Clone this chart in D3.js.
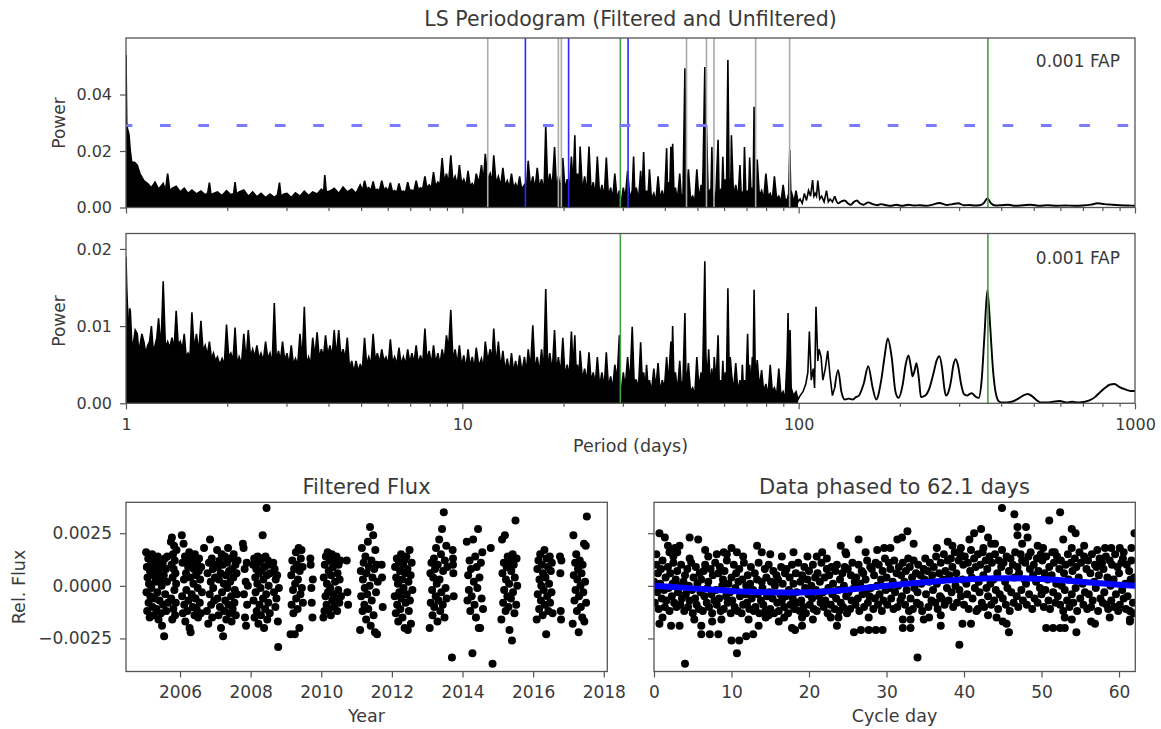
<!DOCTYPE html>
<html><head><meta charset="utf-8">
<script src="https://cdn.jsdelivr.net/npm/d3@7"></script>
<style>body{margin:0;background:#fff}</style>
</head><body>
<script>
// ---------------- DATA ----------------
const filteredPts = [[1.00,.054],[1.005,.030],[1.01,.028],[1.02,.026],[1.03,.020],[1.04,.016],[1.06,.016],[1.08,.015],[1.10,.012],[1.13,.0095],[1.16,.0085],[1.19,.0070],[1.22,.0090],[1.25,.0065],[1.29,.0085],[1.31,.0060],[1.33,.0120],[1.35,.0058],[1.37,.0068],[1.41,.0075],[1.45,.0055],[1.49,.0068],[1.53,.0050],[1.57,.0062],[1.62,.0048],[1.67,.0058],[1.72,.0045],[1.75,.0052],[1.77,.0088],[1.79,.0045],[1.82,.0050],[1.87,.0055],[1.93,.0042],[1.99,.0060],[2.05,.0045],[2.09,.0050],[2.11,.0090],[2.13,.0048],[2.17,.0055],[2.24,.0062],[2.31,.0040],[2.38,.0055],[2.45,.0038],[2.52,.0050],[2.60,.0035],[2.68,.0048],[2.76,.0036],[2.82,.0045],[2.86,.0088],[2.89,.0040],[2.95,.0048],[3.01,.0050],[3.10,.0035],[3.19,.0052],[3.29,.0040],[3.39,.0058],[3.49,.0042],[3.59,.0055],[3.70,.0048],[3.81,.0065],[3.87,.0055],[3.90,.0115],[3.94,.0055],[4.04,.0058],[4.16,.0068],[4.29,.0050],[4.42,.0072],[4.55,.0055],[4.69,.0065],[4.83,.0050],[4.97,.0080],[5.05,.0060],[5.12,.0095],[5.20,.0065],[5.27,.0070],[5.35,.0060],[5.43,.0092],[5.51,.0060],[5.59,.0065],[5.67,.0060],[5.76,.0095],[5.85,.0062],[5.93,.0070],[6.02,.0058],[6.11,.0088],[6.20,.0055],[6.29,.0060],[6.38,.0052],[6.48,.0085],[6.58,.0055],[6.68,.0058],[6.78,.0055],[6.88,.0090],[6.98,.0060],[7.08,.0062],[7.18,.0058],[7.29,.0095],[7.40,.0062],[7.51,.0070],[7.62,.0065],[7.74,.0110],[7.85,.0068],[7.97,.0080],[8.09,.0070],[8.21,.0125],[8.33,.0075],[8.46,.0090],[8.58,.0080],[8.71,.0175],[8.84,.0090],[8.97,.0120],[9.10,.0085],[9.24,.0185],[9.38,.0090],[9.52,.0110],[9.66,.0080],[9.80,.0150],[9.95,.0085],[10.1,.0100],[10.25,.0075],[10.4,.0130],[10.55,.0075],[10.7,.0085],[10.85,.0070],[11.0,.0120],[11.2,.0085],[11.4,.0150],[11.55,.0090],[11.7,.0190],[11.9,.0100],[12.1,.0120],[12.25,.0085],[12.4,.0185],[12.6,.0085],[12.8,.0110],[13.0,.0075],[13.2,.0140],[13.4,.0075],[13.6,.0095],[13.8,.0070],[14.0,.0120],[14.2,.0070],[14.4,.0085],[14.6,.0065],[14.8,.0110],[15.0,.0065],[15.3,.0080],[15.5,.0060],[15.7,.0165],[15.95,.0070],[16.2,.0110],[16.45,.0065],[16.7,.0140],[16.95,.0070],[17.2,.0100],[17.5,.0060],[17.7,.0290],[17.95,.0065],[18.2,.0120],[18.5,.0070],[18.8,.0214],[19.05,.0065],[19.3,.0110],[19.6,.0060],[19.9,.0175],[20.2,.0060],[20.5,.0100],[20.8,.0055],[21.1,.0180],[21.35,.0080],[21.6,.0256],[21.8,.0070],[22.0,.0120],[22.2,.0060],[22.4,.0216],[22.75,.0055],[23.1,.0110],[23.45,.0050],[23.8,.0216],[24.15,.0050],[24.5,.0090],[24.85,.0040],[25.2,.0180],[25.6,.0040],[26.0,.0080],[26.4,.0035],[26.8,.0177],[27.2,.0035],[27.6,.0070],[28.0,.0030],[28.4,.0120],[28.85,.0030],[29.3,.0060],[29.6,.0005],[30.1,.0070],[30.5,.0030],[31.0,.0130],[31.5,.0030],[32.0,.0060],[32.3,.0180],[32.6,.0035],[32.9,.0070],[33.4,.0025],[33.9,.0130],[34.2,.0040],[34.6,.0196],[34.95,.0030],[35.3,.0060],[35.6,.0025],[36.0,.0135],[36.5,.0030],[37.1,.0050],[37.6,.0020],[38.2,.0110],[38.7,.0030],[39.3,.0060],[39.9,.0025],[40.5,.0210],[40.75,.0060],[41.0,.0090],[41.3,.0040],[41.7,.0215],[41.95,.0080],[42.2,.0226],[42.6,.0040],[43.0,.0070],[43.6,.0025],[44.3,.0120],[44.8,.0030],[45.3,.0050],[45.9,.0493],[46.2,.0080],[46.5,.0070],[47.0,.0135],[47.7,.0030],[48.4,.0040],[49.1,.0020],[49.8,.0135],[50.5,.0030],[51.3,.0080],[51.7,.0040],[52.0,.0150],[52.6,.0497],[52.9,.0150],[53.2,.0290],[53.8,.0050],[54.4,.0060],[54.8,.0030],[55.2,.0214],[55.6,.0040],[56.1,.0020],[56.8,.0060],[57.6,.0240],[58.0,.0050],[58.5,.0060],[59.0,.0030],[59.5,.0180],[60.0,.0040],[60.5,.0100],[61.0,.0060],[61.6,.0522],[62.1,.0100],[62.5,.0100],[62.8,.0060],[63.1,.0256],[64.0,.0040],[65.0,.0080],[66.0,.0030],[66.9,.0150],[67.5,.0040],[68.0,.0050],[68.5,.0030],[69.0,.0214],[69.7,.0040],[70.5,.0060],[71.0,.0040],[71.5,.0177],[72.2,.0040],[72.8,.0070],[73.2,.0050],[73.7,.0357],[74.2,.0080],[74.8,.0100],[75.0,.0070],[75.3,.0170],[76.4,.0040],[77.6,.0060],[78.7,.0030],[79.9,.0120],[81.1,.0040],[82.3,.0050],[83.5,.0025],[84.7,.0110],[86.0,.0030],[87.3,.0040],[88.6,.0020],[89.9,.0080],[91.2,.0025],[92.6,.0030],[93.4,.0050],[94.1,.0204],[94.8,.0040],[95.4,.0050],[96.8,.0020],[98.2,.0060],[99.6,.0020],[101,.0030],[102.5,.0015],[104,.0050],[105.5,.0025],[107,.0060],[108.5,.0040],[110,.0097],[111,.0040],[112,.0050],[113,.0040],[114,.0095],[115.5,.0030],[117,.0040],[119,.0020],[121,.0060],[122.5,.0020],[124,.0030],[126,.0020],[128,.0040],[131,.0015],[134,.0022],[137,.0025],[140,.0015],[143,.0010],[146,.0020],[149,.0025],[152,.0015],[156,.0010],[161,.0018],[166,.0012],[171,.0008],[176,.0012],[182,.0008],[188,.0006],[195,.0010],[203,.0006],[212,.0010],[220,.0007],[229,.0008],[240,.0006],[250,.0010],[262,.0016],[275,.0009],[287,.0012],[298,.0015],[310,.0008],[322,.0009],[333,.0007],[345,.0008],[355,.0015],[364,.0032],[373,.0015],[385,.0007],[400,.0008],[420,.0010],[440,.0006],[465,.0008],[490,.0010],[520,.0006],[550,.0008],[585,.0006],[620,.0007],[660,.0006],[700,.0007],[740,.0010],[775,.0015],[810,.0012],[850,.0010],[900,.0008],[950,.0007],[1000,.0006]];

const unfilteredPts = [[1.00,.0190],[1.005,.0150],[1.01,.0125],[1.015,.0080],[1.02,.0095],[1.025,.0123],[1.03,.0120],[1.04,.0080],[1.05,.0075],[1.065,.0095],[1.08,.0090],[1.09,.0070],[1.10,.0075],[1.115,.0090],[1.13,.0080],[1.145,.0065],[1.16,.0075],[1.175,.0080],[1.19,.0100],[1.205,.0068],[1.22,.0075],[1.235,.0085],[1.25,.0110],[1.27,.0070],[1.29,.0158],[1.31,.0072],[1.33,.0080],[1.35,.0072],[1.37,.0085],[1.39,.0070],[1.41,.0120],[1.43,.0075],[1.45,.0080],[1.47,.0070],[1.49,.0090],[1.51,.0060],[1.53,.0065],[1.55,.0060],[1.57,.0118],[1.595,.0070],[1.62,.0090],[1.645,.0065],[1.67,.0107],[1.695,.0068],[1.72,.0075],[1.745,.0062],[1.77,.0080],[1.795,.0058],[1.82,.0065],[1.845,.0055],[1.87,.0060],[1.90,.0050],[1.93,.0058],[1.96,.0050],[1.99,.0102],[2.02,.0060],[2.05,.0065],[2.08,.0055],[2.11,.0098],[2.14,.0050],[2.17,.0060],[2.205,.0050],[2.24,.0090],[2.275,.0055],[2.31,.0095],[2.345,.0060],[2.38,.0070],[2.415,.0060],[2.45,.0075],[2.485,.0058],[2.52,.0065],[2.56,.0055],[2.60,.0080],[2.64,.0058],[2.68,.0065],[2.72,.0050],[2.76,.0130],[2.80,.0055],[2.84,.0068],[2.88,.0055],[2.92,.0080],[2.965,.0055],[3.01,.0065],[3.055,.0050],[3.10,.0075],[3.145,.0050],[3.19,.0058],[3.24,.0050],[3.29,.0090],[3.34,.0055],[3.39,.0125],[3.44,.0050],[3.49,.0060],[3.54,.0050],[3.59,.0085],[3.645,.0060],[3.70,.0092],[3.755,.0058],[3.81,.0070],[3.865,.0060],[3.92,.0088],[3.98,.0062],[4.04,.0075],[4.10,.0060],[4.16,.0095],[4.22,.0060],[4.29,.0095],[4.355,.0060],[4.42,.0070],[4.485,.0058],[4.55,.0085],[4.62,.0045],[4.69,.0055],[4.76,.0040],[4.83,.0055],[4.90,.0042],[4.97,.0050],[5.045,.0045],[5.12,.0085],[5.195,.0050],[5.27,.0060],[5.35,.0050],[5.43,.0090],[5.51,.0055],[5.59,.0065],[5.675,.0052],[5.76,.0070],[5.845,.0055],[5.93,.0060],[6.02,.0050],[6.11,.0083],[6.20,.0052],[6.29,.0060],[6.385,.0050],[6.48,.0072],[6.58,.0050],[6.68,.0060],[6.78,.0050],[6.88,.0070],[6.98,.0052],[7.08,.0065],[7.185,.0052],[7.29,.0075],[7.40,.0050],[7.51,.0062],[7.62,.0050],[7.74,.0097],[7.85,.0055],[7.97,.0068],[8.09,.0050],[8.21,.0075],[8.33,.0052],[8.46,.0065],[8.58,.0050],[8.71,.0070],[8.84,.0055],[8.97,.0088],[9.10,.0070],[9.24,.0121],[9.38,.0055],[9.52,.0070],[9.66,.0050],[9.80,.0075],[9.95,.0048],[10.1,.0062],[10.25,.0045],[10.4,.0070],[10.55,.0048],[10.7,.0060],[10.85,.0045],[11.0,.0072],[11.2,.0048],[11.4,.0058],[11.55,.0045],[11.7,.0080],[11.9,.0055],[12.1,.0070],[12.25,.0055],[12.4,.0097],[12.6,.0050],[12.8,.0080],[13.0,.0045],[13.2,.0068],[13.4,.0042],[13.6,.0058],[13.8,.0040],[14.0,.0065],[14.2,.0040],[14.4,.0055],[14.6,.0040],[14.8,.0062],[15.05,.0040],[15.3,.0060],[15.5,.0040],[15.7,.0070],[15.95,.0045],[16.2,.0101],[16.45,.0042],[16.7,.0060],[16.95,.0040],[17.2,.0070],[17.45,.0040],[17.7,.0148],[17.95,.0042],[18.2,.0065],[18.5,.0040],[18.8,.0095],[19.05,.0040],[19.3,.0060],[19.6,.0038],[19.9,.0085],[20.2,.0035],[20.5,.0050],[20.8,.0035],[21.1,.0093],[21.35,.0045],[21.6,.0088],[21.8,.0040],[22.0,.0050],[22.2,.0030],[22.4,.0068],[22.75,.0030],[23.1,.0045],[23.45,.0028],[23.8,.0066],[24.15,.0028],[24.5,.0040],[24.85,.0025],[25.2,.0060],[25.6,.0022],[26.0,.0040],[26.4,.0020],[26.8,.0066],[27.2,.0020],[27.6,.0035],[28.0,.0018],[28.4,.0050],[28.85,.0030],[29.3,.0088],[29.6,.0002],[30.1,.0040],[30.5,.0020],[31.0,.0060],[31.5,.0025],[32.0,.0099],[32.4,.0030],[32.9,.0030],[33.4,.0020],[33.9,.0079],[34.3,.0025],[34.6,.0040],[35.0,.0020],[35.3,.0050],[35.7,.0018],[36.0,.0030],[36.5,.0015],[37.1,.0045],[37.6,.0020],[38.2,.0052],[38.7,.0015],[39.3,.0030],[39.9,.0020],[40.5,.0060],[41.0,.0025],[41.7,.0080],[42.0,.0050],[42.2,.0100],[42.6,.0025],[43.0,.0040],[43.6,.0015],[44.3,.0055],[44.8,.0020],[45.3,.0030],[45.9,.0117],[46.2,.0040],[46.6,.0030],[47.0,.0052],[47.7,.0015],[48.4,.0020],[49.1,.0010],[49.8,.0060],[50.5,.0020],[51.3,.0040],[51.7,.0025],[52.0,.0070],[52.6,.0184],[53.0,.0060],[53.5,.0030],[54.0,.0070],[54.6,.0020],[55.2,.0045],[55.6,.0010],[56.1,.0060],[56.8,.0025],[57.6,.0088],[58.1,.0020],[58.5,.0030],[59.0,.0015],[59.5,.0055],[60.0,.0020],[60.5,.0040],[61.0,.0030],[61.6,.0149],[62.1,.0050],[62.6,.0060],[63.1,.0040],[64.0,.0015],[65.0,.0052],[66.0,.0015],[66.9,.0030],[67.5,.0010],[68.0,.0050],[68.5,.0020],[69.0,.0030],[69.7,.0020],[70.5,.0090],[71.0,.0035],[71.5,.0050],[72.2,.0020],[72.8,.0060],[73.2,.0040],[73.7,.0147],[74.3,.0040],[74.8,.0040],[75.3,.0056],[76.4,.0020],[77.6,.0043],[78.7,.0015],[79.9,.0025],[81.1,.0010],[82.3,.0050],[83.5,.0015],[84.7,.0020],[86.0,.0010],[87.3,.0045],[88.6,.0010],[89.9,.0015],[91.2,.0005],[92.4,.0060],[93.0,.0117],[93.6,.0030],[94.3,.0095],[95.0,.0020],[96.5,.0010],[98.2,.0015],[99.6,.0005],[101,.0010],[103,.0015],[105,.0025],[106.5,.0040],[107.6,.0093],[109,.0030],[110.5,.0045],[111.5,.0020],[112.6,.0125],[114,.0055],[115,.0070],[116.6,.0060],[118,.0030],[120,.0045],[122,.0068],[124,.0035],[126,.0010],[128,.0020],[131,.0043],[134,.0015],[137,.0005],[141,.0006],[145,.0005],[148,.0008],[151,.0010],[156,.0025],[161,.0048],[166,.0020],[170,.0005],[176,.0030],[180,.0060],[184,.0084],[189,.0060],[194,.0015],[198,.0007],[204,.0025],[208,.0050],[212,.0062],[216,.0045],[218,.0035],[221,.0042],[224,.0052],[228,.0030],[231,.0008],[238,.0010],[245,.0020],[252,.0040],[257,.0055],[262,.0061],[267,.0045],[271,.0020],[274,.0010],[279,.0015],[284,.0030],[288,.0048],[293,.0057],[298,.0048],[304,.0025],[310,.0012],[317,.0010],[322,.0012],[327,.0013],[335,.0009],[343,.0007],[350,.0030],[357,.0090],[364,.0147],[371,.0100],[378,.0045],[386,.0012],[395,.0002],[404,.0001],[415,.0001],[430,.0002],[450,.0006],[465,.0010],[480,.0012],[495,.0009],[510,.0004],[525,.0001],[545,.0001],[570,.0002],[597,.0003],[625,.0001],[650,.0002],[680,.0001],[710,.0002],[735,.0004],[760,.0008],[790,.0015],[815,.0020],[840,.0024],[869,.0025],[900,.0021],[935,.0018],[970,.0016],[1000,.0016]];

const grayPeriods = [11.9, 19.3, 19.7, 46.4, 53.2, 56.0, 74.5, 94.0];
const bluePeriods = [15.4, 20.7, 31.1];
const greenPeriods = [29.5, 365.25];
const fapLevelFiltered = 0.029;
const periodTicks = [1, 10, 100, 1000];
const powerTicksTop = [0, 0.02, 0.04];
const powerTicksMid = [0, 0.01, 0.02];

const fluxPts = [
[2005.04,16e-4],[2005.05,-3e-4],[2005.06,9e-4],[2005.07,-12e-4],[2005.08,4e-4],[2005.1,13e-4],[2005.11,-8e-4],[2005.12,1e-4],[2005.14,-15e-4],[2005.15,7e-4],[2005.16,-5e-4],[2005.18,11e-4],[2005.19,-1e-4],[2005.21,15e-4],[2005.22,-10e-4],[2005.24,5e-4],[2005.25,-14e-4],[2005.27,9e-4],[2005.28,-6e-4],[2005.3,2e-4],[2005.31,12e-4],[2005.33,-11e-4],[2005.34,6e-4],[2005.36,-3e-4],[2005.37,14e-4],[2005.39,-16e-4],[2005.4,8e-4],[2005.42,-7e-4],[2005.43,3e-4],[2005.45,10e-4],[2005.46,-13e-4],[2005.48,0],[2005.49,-19e-4],[2005.51,11e-4],[2005.52,-9e-4],[2005.54,5e-4],[2005.55,-24e-4],[2005.57,13e-4],[2005.58,-4e-4],[2005.6,8e-4],[2005.61,-12e-4],[2005.63,2e-4],[2005.64,14e-4],[2005.66,-8e-4],
[2005.74,21e-4],[2005.75,-6e-4],[2005.76,10e-4],[2005.77,23e-4],[2005.78,-16e-4],[2005.79,4e-4],[2005.8,15e-4],[2005.81,-11e-4],[2005.82,8e-4],[2005.83,19e-4],[2005.84,-2e-4],[2005.85,12e-4],[2005.86,-14e-4],[2005.87,6e-4],[2005.88,-8e-4],[2005.89,1e-4],[2005.9,17e-4],
[2006.05,24e-4],[2006.06,-5e-4],[2006.07,11e-4],[2006.08,-13e-4],[2006.1,20e-4],[2006.11,3e-4],[2006.12,-9e-4],[2006.14,14e-4],[2006.15,-17e-4],[2006.17,6e-4],[2006.18,-2e-4],[2006.2,12e-4],[2006.21,-12e-4],[2006.23,9e-4],[2006.24,-7e-4],[2006.26,16e-4],[2006.27,-20e-4],[2006.29,4e-4],[2006.3,-22e-4],[2006.32,10e-4],[2006.33,-4e-4],[2006.35,13e-4],[2006.36,-10e-4],[2006.38,1e-4],[2006.39,8e-4],[2006.41,-14e-4],[2006.42,15e-4],[2006.44,-6e-4],[2006.45,5e-4],[2006.47,-11e-4],[2006.48,11e-4],[2006.5,-1e-4],[2006.51,-15e-4],[2006.53,7e-4],[2006.54,13e-4],[2006.56,-8e-4],[2006.57,3e-4],[2006.59,-13e-4],[2006.6,9e-4],[2006.62,-3e-4],[2006.68,18e-4],
[2006.76,-12e-4],[2006.78,6e-4],[2006.8,-18e-4],[2006.82,11e-4],[2006.84,-4e-4],[2006.85,22e-4],[2006.87,2e-4],[2006.88,-9e-4],[2006.9,13e-4],[2006.91,-15e-4],[2006.93,8e-4],[2006.94,-1e-4],[2006.96,10e-4],[2006.97,-7e-4],[2006.99,4e-4],
[2007.05,17e-4],[2007.06,-6e-4],[2007.07,9e-4],[2007.09,-14e-4],[2007.1,3e-4],[2007.12,12e-4],[2007.13,-10e-4],[2007.15,6e-4],[2007.16,-20e-4],[2007.18,15e-4],[2007.19,-3e-4],[2007.21,10e-4],[2007.22,-24e-4],[2007.24,1e-4],[2007.25,-12e-4],[2007.27,14e-4],[2007.28,-7e-4],[2007.3,5e-4],[2007.31,-16e-4],[2007.33,11e-4],[2007.34,-1e-4],[2007.36,18e-4],[2007.37,-9e-4],[2007.39,7e-4],[2007.4,-13e-4],[2007.42,2e-4],[2007.43,13e-4],[2007.45,-5e-4],[2007.46,-17e-4],[2007.48,8e-4],[2007.49,-11e-4],[2007.51,4e-4],[2007.52,15e-4],[2007.54,-8e-4],[2007.55,-2e-4],[2007.57,10e-4],[2007.58,-14e-4],[2007.6,6e-4],[2007.61,-4e-4],[2007.63,12e-4],
[2007.78,20e-4],[2007.8,18e-4],[2007.81,-4e-4],[2007.83,8e-4],[2007.84,-15e-4],[2007.86,2e-4],[2007.87,-19e-4],[2007.89,11e-4],[2007.9,-9e-4],[2007.92,0],
[2008.07,10e-4],[2008.08,-7e-4],[2008.1,13e-4],[2008.11,-15e-4],[2008.13,4e-4],[2008.14,-3e-4],[2008.16,8e-4],[2008.17,-12e-4],[2008.19,1e-4],[2008.2,14e-4],[2008.22,-18e-4],[2008.23,6e-4],[2008.25,-9e-4],[2008.26,11e-4],[2008.28,-1e-4],[2008.29,-14e-4],[2008.31,7e-4],[2008.32,13e-4],[2008.34,24e-4],[2008.35,-6e-4],[2008.36,3e-4],[2008.38,-20e-4],[2008.39,9e-4],[2008.41,-11e-4],[2008.42,14e-4],[2008.45,37e-4],[2008.44,-4e-4],[2008.46,5e-4],[2008.47,-16e-4],[2008.49,12e-4],[2008.5,-8e-4],[2008.51,0],[2008.52,10e-4],[2008.54,-13e-4],[2008.55,6e-4],
[2008.64,11e-4],[2008.66,-3e-4],[2008.68,8e-4],[2008.7,-10e-4],[2008.71,3e-4],[2008.73,-6e-4],[2008.75,5e-4],[2008.77,-17e-4],[2008.78,-29e-4],[2008.8,-1e-4],
[2009.13,-23e-4],[2009.15,5e-4],[2009.16,-9e-4],[2009.18,12e-4],[2009.2,-2e-4],[2009.21,-13e-4],[2009.23,8e-4],[2009.25,-23e-4],[2009.26,1e-4],[2009.28,16e-4],[2009.29,-6e-4],[2009.31,10e-4],[2009.33,-11e-4],[2009.34,3e-4],[2009.36,18e-4],[2009.38,-20e-4],[2009.39,7e-4],[2009.41,-4e-4],[2009.42,13e-4],[2009.44,17e-4],[2009.45,-1e-4],[2009.47,9e-4],[2009.48,-8e-4],
[2009.69,13e-4],[2009.7,10e-4],[2009.72,-1e-4],[2009.73,-8e-4],[2009.75,-15e-4],[2009.76,3e-4],
[2010.06,-15e-4],[2010.07,4e-4],[2010.09,-12e-4],[2010.1,10e-4],[2010.12,-5e-4],[2010.13,14e-4],[2010.15,-9e-4],[2010.16,1e-4],[2010.18,16e-4],[2010.19,-3e-4],[2010.21,7e-4],[2010.22,-11e-4],[2010.24,12e-4],[2010.25,-1e-4],[2010.27,-14e-4],[2010.28,5e-4],[2010.3,15e-4],[2010.31,-7e-4],[2010.33,9e-4],[2010.34,-4e-4],[2010.36,13e-4],[2010.37,-10e-4],[2010.39,2e-4],[2010.4,11e-4],[2010.42,-6e-4],[2010.43,14e-4],[2010.45,-12e-4],[2010.46,6e-4],[2010.48,-2e-4],[2010.49,10e-4],[2010.51,-8e-4],[2010.52,3e-4],[2010.54,12e-4],[2010.56,-5e-4],
[2010.72,12e-4],[2010.74,-3e-4],[2010.76,-9e-4],
[2011.1,-21e-4],[2011.12,7e-4],[2011.13,-5e-4],[2011.15,18e-4],[2011.17,-12e-4],[2011.18,3e-4],[2011.2,11e-4],[2011.22,-9e-4],[2011.23,-1e-4],[2011.25,14e-4],[2011.27,-16e-4],[2011.28,6e-4],[2011.3,-4e-4],[2011.32,21e-4],[2011.33,-11e-4],[2011.35,9e-4],[2011.37,0],[2011.38,28e-4],[2011.4,-19e-4],[2011.42,12e-4],[2011.43,-7e-4],[2011.45,4e-4],[2011.47,24e-4],[2011.48,-14e-4],[2011.5,8e-4],[2011.52,-22e-4],[2011.53,17e-4],[2011.55,-3e-4],[2011.57,10e-4],[2011.58,-23e-4],[2011.6,2e-4],
[2011.71,10e-4],[2011.72,4e-4],[2011.74,-10e-4],
[2012.08,-5e-4],[2012.09,9e-4],[2012.11,-13e-4],[2012.12,4e-4],[2012.14,13e-4],[2012.15,-9e-4],[2012.17,1e-4],[2012.18,-17e-4],[2012.2,11e-4],[2012.21,-3e-4],[2012.23,7e-4],[2012.24,-11e-4],[2012.26,15e-4],[2012.27,-6e-4],[2012.29,3e-4],[2012.3,-15e-4],[2012.32,10e-4],[2012.33,-1e-4],[2012.35,12e-4],[2012.36,-20e-4],[2012.38,6e-4],[2012.39,-8e-4],[2012.41,14e-4],[2012.42,-4e-4],[2012.44,8e-4],[2012.45,-21e-4],[2012.47,2e-4],[2012.48,-12e-4],[2012.5,17e-4],[2012.51,-7e-4],[2012.53,5e-4],[2012.54,-18e-4],[2012.56,11e-4],[2012.58,-2e-4],
[2013.07,-20e-4],[2013.09,6e-4],[2013.1,-8e-4],[2013.12,11e-4],[2013.14,-2e-4],[2013.15,-14e-4],[2013.17,4e-4],[2013.19,13e-4],[2013.2,-10e-4],[2013.22,8e-4],[2013.24,-5e-4],[2013.25,18e-4],[2013.27,1e-4],[2013.29,-17e-4],[2013.3,10e-4],[2013.32,-7e-4],[2013.34,22e-4],[2013.35,3e-4],[2013.37,-12e-4],[2013.39,15e-4],[2013.4,-3e-4],[2013.42,27e-4],[2013.44,-9e-4],[2013.45,7e-4],[2013.47,35e-4],[2013.49,-15e-4],[2013.5,12e-4],[2013.52,-1e-4],[2013.54,19e-4],[2013.55,-6e-4],[2013.57,9e-4],
[2013.7,-34e-4],[2013.72,17e-4],[2013.73,10e-4],[2013.74,6e-4],[2013.75,-5e-4],[2013.73,13e-4],
[2014.12,21e-4],[2014.14,-7e-4],[2014.16,5e-4],[2014.18,-2e-4],[2014.2,12e-4],[2014.22,-12e-4],[2014.24,8e-4],[2014.26,-5e-4],[2014.28,-32e-4],[2014.3,22e-4],[2014.32,2e-4],[2014.34,-9e-4],[2014.36,14e-4],[2014.38,-15e-4],[2014.4,9e-4],[2014.42,-1e-4],[2014.44,27e-4],[2014.46,-20e-4],[2014.48,4e-4],[2014.5,-20e-4],[2014.52,11e-4],[2014.54,-6e-4],[2014.56,16e-4],[2014.58,-11e-4],
[2014.8,18e-4],[2014.85,-37e-4],
[2015.1,-16e-4],[2015.12,22e-4],[2015.13,6e-4],[2015.15,-8e-4],[2015.17,11e-4],[2015.18,-2e-4],[2015.2,24e-4],[2015.22,-12e-4],[2015.23,3e-4],[2015.25,9e-4],[2015.27,-5e-4],[2015.28,14e-4],[2015.3,-10e-4],[2015.32,1e-4],[2015.33,-21e-4],[2015.35,12e-4],[2015.37,-6e-4],[2015.38,7e-4],[2015.4,-26e-4],[2015.42,15e-4],[2015.43,-3e-4],[2015.45,10e-4],[2015.47,-13e-4],[2015.48,4e-4],[2015.5,31e-4],[2015.52,-9e-4],[2015.53,13e-4],[2015.55,0],
[2016.1,-16e-4],[2016.12,8e-4],[2016.13,-4e-4],[2016.15,12e-4],[2016.17,-11e-4],[2016.18,3e-4],[2016.2,15e-4],[2016.22,-7e-4],[2016.23,0],[2016.25,10e-4],[2016.27,-14e-4],[2016.28,6e-4],[2016.3,-2e-4],[2016.32,17e-4],[2016.33,-9e-4],[2016.35,4e-4],[2016.37,-23e-4],[2016.38,13e-4],[2016.4,-5e-4],[2016.42,9e-4],[2016.43,-12e-4],[2016.45,1e-4],[2016.47,14e-4],[2016.48,-8e-4],[2016.5,7e-4],[2016.52,-3e-4],[2016.53,11e-4],[2016.55,-13e-4],
[2016.76,14e-4],[2016.77,6e-4],[2016.78,-12e-4],[2016.79,-16e-4],[2016.8,12e-4],
[2017.12,-18e-4],[2017.14,24e-4],[2017.15,5e-4],[2017.17,-7e-4],[2017.19,11e-4],[2017.2,-2e-4],[2017.22,15e-4],[2017.24,-12e-4],[2017.25,3e-4],[2017.27,8e-4],[2017.29,-22e-4],[2017.3,-5e-4],[2017.32,12e-4],[2017.34,0],[2017.35,-10e-4],[2017.37,6e-4],[2017.39,-15e-4],[2017.4,10e-4],[2017.42,-3e-4],[2017.44,20e-4],[2017.45,-17e-4],[2017.47,2e-4],[2017.49,19e-4],[2017.5,-8e-4],[2017.52,33e-4]
];

const phasePts = [
[0,2e-4],[0.1,-8e-4],[0.3,10e-4],[0.4,-3e-4],[0.5,6e-4],[0.6,-11e-4],[0.8,1e-4],[0.9,8e-4],
[1,-6e-4],[1.1,12e-4],[1.3,-2e-4],[1.4,-10e-4],[1.5,4e-4],[1.6,-7e-4],[1.8,9e-4],[1.9,-1e-4],
[2,-12e-4],[2.1,6e-4],[2.3,-5e-4],[2.4,1e-4],[2.5,11e-4],[2.6,-8e-4],[2.8,3e-4],[2.9,-10e-4],
[3,7e-4],[3.1,-3e-4],[3.3,0],[3.4,-9e-4],[3.5,10e-4],[3.6,-6e-4],[3.8,2e-4],[3.9,-12e-4],
[4,5e-4],[4.1,-4e-4],[4.3,8e-4],[4.4,-10e-4],[4.5,0],[4.6,-7e-4],[4.8,11e-4],[4.9,-2e-4],
[5,-13e-4],[5.1,4e-4],[5.3,-6e-4],[5.4,9e-4],[5.5,-9e-4],[5.6,1e-4],[5.8,-11e-4],[5.9,6e-4],
[6,-3e-4],[6.1,3e-4],[6.3,-12e-4],[6.4,7e-4],[6.5,-5e-4],[6.6,10e-4],[6.8,-8e-4],[6.9,-1e-4],
[7,2e-4],[7.1,-10e-4],[7.3,8e-4],[7.4,-4e-4],[7.5,-13e-4],[7.6,5e-4],[7.8,-7e-4],[7.9,11e-4],
[8,-2e-4],[8.1,-9e-4],[8.3,6e-4],[8.4,-6e-4],[8.5,9e-4],[8.6,-12e-4],[8.8,0],[8.9,3e-4],
[9,-11e-4],[9.1,7e-4],[9.3,-5e-4],[9.4,12e-4],[9.5,-8e-4],[9.6,1e-4],[9.8,-3e-4],[9.9,-13e-4],
[10,4e-4],[10.1,-7e-4],[10.3,10e-4],[10.4,-10e-4],[10.5,-1e-4],[10.6,6e-4],[10.8,-12e-4],[10.9,2e-4],
[11,8e-4],[11.1,-5e-4],[11.3,-13e-4],[11.4,3e-4],[11.5,-9e-4],[11.6,11e-4],[11.8,-4e-4],[11.9,0],
[12,-8e-4],[12.1,5e-4],[12.3,-11e-4],[12.4,1e-4],[12.5,9e-4],[12.6,-6e-4],[12.8,-2e-4],[12.9,-12e-4],
[13,6e-4],[13.1,-10e-4],[13.3,3e-4],[13.4,-4e-4],[13.5,11e-4],[13.6,-13e-4],[13.8,-7e-4],[13.9,2e-4],
[14,-1e-4],[14.1,-9e-4],[14.3,8e-4],[14.4,-12e-4],[14.5,4e-4],[14.6,-5e-4],[14.8,10e-4],[14.9,-3e-4],
[15,-11e-4],[15.1,2e-4],[15.3,-6e-4],[15.4,7e-4],[15.5,-13e-4],[15.6,0],[15.8,5e-4],[15.9,-8e-4],
[16,3e-4],[16.1,-12e-4],[16.3,-4e-4],[16.4,9e-4],[16.5,-7e-4],[16.6,1e-4],[16.8,-10e-4],[16.9,6e-4],
[17,-5e-4],[17.1,8e-4],[17.3,-13e-4],[17.4,-2e-4],[17.5,4e-4],[17.6,-9e-4],[17.8,10e-4],[17.9,-6e-4],
[18,1e-4],[18.1,-11e-4],[18.3,6e-4],[18.4,-3e-4],[18.5,-8e-4],[18.6,11e-4],[18.8,-12e-4],[18.9,2e-4],
[19,-7e-4],[19.1,5e-4],[19.3,-10e-4],[19.4,9e-4],[19.5,-1e-4],[19.6,-13e-4],[19.8,3e-4],[19.9,-4e-4],
[20,7e-4],[20.1,-9e-4],[20.3,0],[20.4,-6e-4],[20.5,10e-4],[20.6,-11e-4],[20.8,4e-4],[20.9,-2e-4],
[21,-12e-4],[21.1,6e-4],[21.3,-5e-4],[21.4,2e-4],[21.5,-8e-4],[21.6,11e-4],[21.8,-3e-4],[21.9,-10e-4],
[22,4e-4],[22.1,-7e-4],[22.3,8e-4],[22.4,-13e-4],[22.5,-1e-4],[22.6,5e-4],[22.8,-9e-4],[22.9,9e-4],
[23,-4e-4],[23.1,1e-4],[23.3,-11e-4],[23.4,7e-4],[23.5,-6e-4],[23.6,10e-4],[23.8,-2e-4],[23.9,-12e-4],
[24,3e-4],[24.1,-8e-4],[24.3,6e-4],[24.4,-10e-4],[24.5,0],[24.6,9e-4],[24.8,-5e-4],[24.9,-13e-4],
[25,8e-4],[25.1,-3e-4],[25.3,-11e-4],[25.4,5e-4],[25.5,-7e-4],[25.6,11e-4],[25.8,-1e-4],[25.9,2e-4],
[26,-9e-4],[26.1,4e-4],[26.3,-6e-4],[26.4,10e-4],[26.5,-12e-4],[26.6,1e-4],[26.8,7e-4],[26.9,-4e-4],
[27,6e-4],[27.1,-10e-4],[27.3,3e-4],[27.4,-2e-4],[27.5,12e-4],[27.6,-8e-4],[27.8,-5e-4],[27.9,9e-4],
[28,-1e-4],[28.1,8e-4],[28.3,-11e-4],[28.4,5e-4],[28.5,-6e-4],[28.6,11e-4],[28.8,0],[28.9,-9e-4],
[29,10e-4],[29.1,-4e-4],[29.3,3e-4],[29.4,-12e-4],[29.5,7e-4],[29.6,-7e-4],[29.8,13e-4],[29.9,-2e-4],
[30,4e-4],[30.1,-9e-4],[30.3,11e-4],[30.4,-1e-4],[30.5,8e-4],[30.6,-6e-4],[30.8,2e-4],[30.9,-11e-4],
[31,12e-4],[31.1,-3e-4],[31.3,6e-4],[31.4,-10e-4],[31.5,0],[31.6,9e-4],[31.8,-7e-4],[31.9,5e-4],
[32,-5e-4],[32.1,11e-4],[32.3,2e-4],[32.4,-9e-4],[32.5,7e-4],[32.6,-2e-4],[32.8,13e-4],[32.9,-12e-4],
[33,9e-4],[33.1,-6e-4],[33.3,4e-4],[33.4,-11e-4],[33.5,12e-4],[33.6,-1e-4],[33.8,6e-4],[33.9,-8e-4],
[34,-3e-4],[34.1,10e-4],[34.3,-9e-4],[34.4,5e-4],[34.5,1e-4],[34.6,-12e-4],[34.8,8e-4],[34.9,3e-4],
[35,13e-4],[35.1,-4e-4],[35.3,7e-4],[35.4,-10e-4],[35.5,2e-4],[35.6,11e-4],[35.8,-7e-4],[35.9,5e-4],
[36,-2e-4],[36.1,9e-4],[36.3,-8e-4],[36.4,14e-4],[36.5,1e-4],[36.6,-11e-4],[36.8,6e-4],[36.9,-5e-4],
[37,11e-4],[37.1,-6e-4],[37.3,3e-4],[37.4,15e-4],[37.5,-9e-4],[37.6,7e-4],[37.8,-1e-4],[37.9,12e-4],
[38,-7e-4],[38.1,5e-4],[38.3,13e-4],[38.4,-3e-4],[38.5,9e-4],[38.6,-10e-4],[38.8,16e-4],[38.9,0],
[39,6e-4],[39.1,-8e-4],[39.3,12e-4],[39.4,-2e-4],[39.5,15e-4],[39.6,-5e-4],[39.8,3e-4],[39.9,10e-4],
[40,-9e-4],[40.1,14e-4],[40.3,1e-4],[40.4,-4e-4],[40.5,11e-4],[40.6,-11e-4],[40.8,7e-4],[40.9,17e-4],
[41,4e-4],[41.1,-6e-4],[41.3,13e-4],[41.4,-1e-4],[41.5,9e-4],[41.6,-12e-4],[41.8,15e-4],[41.9,2e-4],
[42,-3e-4],[42.1,10e-4],[42.3,-8e-4],[42.4,16e-4],[42.5,5e-4],[42.6,-10e-4],[42.8,12e-4],[42.9,-1e-4],
[43,8e-4],[43.1,-5e-4],[43.3,14e-4],[43.4,1e-4],[43.5,-9e-4],[43.6,11e-4],[43.8,3e-4],[43.9,-7e-4],
[44,15e-4],[44.1,-2e-4],[44.3,6e-4],[44.4,-11e-4],[44.5,12e-4],[44.6,-4e-4],[44.8,9e-4],[44.9,17e-4],
[45,-6e-4],[45.1,11e-4],[45.3,2e-4],[45.4,-9e-4],[45.5,14e-4],[45.6,-1e-4],[45.8,7e-4],[45.9,-12e-4],
[46,13e-4],[46.1,-3e-4],[46.3,10e-4],[46.4,-8e-4],[46.5,4e-4],[46.6,16e-4],[46.8,-5e-4],[46.9,9e-4],
[47,-10e-4],[47.1,6e-4],[47.3,15e-4],[47.4,-2e-4],[47.5,12e-4],[47.6,-7e-4],[47.8,3e-4],[47.9,11e-4],
[48,1e-4],[48.1,-9e-4],[48.3,14e-4],[48.4,-4e-4],[48.5,8e-4],[48.6,16e-4],[48.8,-11e-4],[48.9,5e-4],
[49,10e-4],[49.1,-6e-4],[49.3,2e-4],[49.4,13e-4],[49.5,-8e-4],[49.6,7e-4],[49.8,-1e-4],[49.9,15e-4],
[50,-4e-4],[50.1,12e-4],[50.3,-10e-4],[50.4,6e-4],[50.5,-2e-4],[50.6,14e-4],[50.8,3e-4],[50.9,-7e-4],
[51,9e-4],[51.1,-11e-4],[51.3,5e-4],[51.4,16e-4],[51.5,-3e-4],[51.6,11e-4],[51.8,-8e-4],[51.9,1e-4],
[52,14e-4],[52.1,-5e-4],[52.3,8e-4],[52.4,-9e-4],[52.5,12e-4],[52.6,0],[52.8,-12e-4],[52.9,6e-4],
[53,-2e-4],[53.1,10e-4],[53.3,-7e-4],[53.4,15e-4],[53.5,3e-4],[53.6,-10e-4],[53.8,11e-4],[53.9,-4e-4],
[54,7e-4],[54.1,-8e-4],[54.3,13e-4],[54.4,-1e-4],[54.5,9e-4],[54.6,-12e-4],[54.8,4e-4],[54.9,16e-4],
[55,-6e-4],[55.1,11e-4],[55.3,1e-4],[55.4,-9e-4],[55.5,14e-4],[55.6,-3e-4],[55.8,8e-4],[55.9,-11e-4],
[56,12e-4],[56.1,-4e-4],[56.3,6e-4],[56.4,-10e-4],[56.5,15e-4],[56.6,-7e-4],[56.8,2e-4],[56.9,10e-4],
[57,-1e-4],[57.1,9e-4],[57.3,-12e-4],[57.4,5e-4],[57.5,13e-4],[57.6,-6e-4],[57.8,11e-4],[57.9,-8e-4],
[58,8e-4],[58.1,-3e-4],[58.3,14e-4],[58.4,-9e-4],[58.5,4e-4],[58.6,-11e-4],[58.8,12e-4],[58.9,0],
[59,-7e-4],[59.1,10e-4],[59.3,3e-4],[59.4,-10e-4],[59.5,15e-4],[59.6,-4e-4],[59.8,9e-4],[59.9,-12e-4],
[60,6e-4],[60.1,-9e-4],[60.3,11e-4],[60.4,-2e-4],[60.5,13e-4],[60.6,-6e-4],[60.8,1e-4],[60.9,-11e-4],
[61,10e-4],[61.1,-5e-4],[61.3,7e-4],[61.4,-12e-4],[61.5,3e-4],[61.6,12e-4],[61.8,-8e-4],[61.9,2e-4],[62.0,4e-4],
[0.7,25e-4],[1.4,23e-4],[1.8,19e-4],[2.7,18e-4],[3.3,19e-4],[4.6,23e-4],[5.7,22e-4],[2.5,14e-4],[4.6,13e-4],[6.6,17e-4],[4.0,-37e-4],[0.7,-18e-4],[2.2,-19e-4],[3.3,-19e-4],[6.1,-19e-4],[6.1,-23e-4],[7.2,-23e-4],[8.3,-23e-4],[10.0,-26e-4],[11.0,-26e-4],[11.9,-24e-4],[12.8,-23e-4],[10.7,-32e-4],[13.3,19e-4],[13.9,16e-4],[10.0,18e-4],[10.7,16e-4],[8.1,15e-4],[13.5,-19e-4],[14.4,-15e-4],[16.1,-17e-4],[17.8,-20e-4],[18.2,-21e-4],[19.1,-19e-4],[16.8,-15e-4],[19.1,-15e-4],[21.7,16e-4],[22.3,13e-4],[21.0,14e-4],[24.1,19e-4],[24.7,16e-4],[26.4,22e-4],[27.3,16e-4],[25.8,-22e-4],[26.7,-21e-4],[27.7,-21e-4],[28.6,-21e-4],[29.5,-21e-4],[27.7,-15e-4],[28.8,17e-4],[29.7,18e-4],[30.5,18e-4],[31.4,22e-4],[32.0,23e-4],[32.7,26e-4],[33.5,20e-4],[32.1,-20e-4],[32.1,-16e-4],[34.0,-34e-4],[23.6,-19e-4],[23.8,-15e-4],[39.4,-28e-4],[44.9,37e-4],[46.5,34e-4],[51.0,31e-4],[52.4,35e-4],[46.9,28e-4],[48.0,28e-4],[46.9,24e-4],[48.2,23e-4],[42.2,27e-4],[41.3,25e-4],[40.7,22e-4],[39.6,18e-4],[37.9,21e-4],[43.1,23e-4],[43.5,20e-4],[53.9,27e-4],[54.4,25e-4],[52.8,22e-4],[53.9,18e-4],[51.7,16e-4],[58.2,18e-4],[59.0,18e-4],[60.1,18e-4],[62.0,25e-4],[61.6,18e-4],[37.0,-14e-4],[37.0,-19e-4],[35.5,-15e-4],[34.8,-16e-4],[33.1,-16e-4],[33.1,-20e-4],[39.8,-18e-4],[40.9,-18e-4],[41.8,-11e-4],[43.1,-14e-4],[44.2,-15e-4],[45.0,-17e-4],[45.5,-18e-4],[45.8,-22e-4],[50.6,-20e-4],[51.5,-20e-4],[52.4,-20e-4],[53.0,-20e-4],[54.5,-22e-4],[53.0,-15e-4],[53.9,-16e-4],[56.4,-17e-4],[56.9,-18e-4],[58.8,-15e-4],[61.4,-16e-4],[61.4,-17e-4],[61.9,-13e-4],
[0.3,15e-4],[1.1,-15e-4],[3.0,16e-4],[5.2,-16e-4],[7.0,14e-4],[8.7,-16e-4],[9.4,15e-4],[11.5,14e-4],[12.2,-16e-4],[15.0,15e-4],[16.5,14e-4],[18.0,16e-4],[19.8,14e-4],[20.5,-16e-4],[22.8,-15e-4],[24.8,15e-4],[7.5,-17e-4],[14.8,-14e-4],[9.0,16e-4],[2.0,16e-4],
[36.5,18e-4],[38.5,19e-4],[42.5,18e-4],[44.0,20e-4],[49.5,19e-4],[55.5,19e-4],[57.2,17e-4],[60.6,16e-4],[47.5,20e-4],[50.2,18e-4]
];

const fitDays = [0, 5, 10, 15, 20, 25, 30, 35, 40, 45, 50, 55, 60, 62.1];
const fitFlux = [0, -1.2e-4, -2.4e-4, -3.1e-4, -3.0e-4, -1.8e-4, 0, 1.7e-4, 3.0e-4, 3.6e-4, 3.2e-4, 2.0e-4, 0.5e-4, 0];

const yearTicks = [2006, 2008, 2010, 2012, 2014, 2016, 2018];
const dayTicks = [0, 10, 20, 30, 40, 50, 60];
const fluxTicks = [-0.0025, 0, 0.0025];

// ---------------- DRAWING ----------------
const FONT = "'DejaVu Sans', sans-serif";
const TXT = "#3a3a3a", SPINE = "#555";
const DOT_R = 4.0;
const svg = d3.select("body").append("svg").attr("width", 1161).attr("height", 729)
  .style("font-family", FONT);
const defs = svg.append("defs");

const P_TOP = {x0:126, x1:1135, y0:38, y1:207.5};
const P_MID = {x0:126, x1:1135, y0:233.5, y1:403.3};
const P_BL  = {x0:126, x1:607.3, y0:502.3, y1:671.5};
const P_BR  = {x0:654, x1:1135.3, y0:502.3, y1:671.5};

function clip(id, p) {
  defs.append("clipPath").attr("id", id).append("rect")
    .attr("x", p.x0).attr("y", p.y0).attr("width", p.x1 - p.x0).attr("height", p.y1 - p.y0);
  return `url(#${id})`;
}
function frame(p) {
  svg.append("rect").attr("x", p.x0).attr("y", p.y0).attr("width", p.x1 - p.x0).attr("height", p.y1 - p.y0)
    .attr("fill", "none").attr("stroke", SPINE).attr("stroke-width", 1.3);
}
function styleAxis(g, fs) {
  g.select(".domain").remove();
  g.attr("font-family", FONT).attr("font-size", fs);
  g.selectAll(".tick line").attr("stroke", SPINE).attr("stroke-width", 1.2);
  g.selectAll(".tick text").attr("fill", TXT);
}
function label(x, y, text, fs, anchor, rotate) {
  const t = svg.append("text").attr("fill", TXT).attr("font-size", fs)
    .attr("text-anchor", anchor || "middle").attr("font-family", FONT).text(text);
  if (rotate) t.attr("transform", `translate(${x},${y}) rotate(-90)`);
  else t.attr("x", x).attr("y", y);
  return t;
}

const xP = d3.scaleLog().domain([1, 1000]).range([P_TOP.x0, P_TOP.x1]);
const yTop = d3.scaleLinear().domain([0, 0.06]).range([P_TOP.y1, P_TOP.y0]);
const yMid = d3.scaleLinear().domain([0, 0.022]).range([P_MID.y1, P_MID.y0]);

function periodogram(pts, y, p, cid) {
  const cp = clip(cid, p);
  const g = svg.append("g").attr("clip-path", cp);
  const fillPts = pts.filter(d => d[0] <= 99.7);
  const densePts = pts.filter(d => d[0] <= 128);
  const smoothPts = pts.filter(d => d[0] >= 128);
  g.append("path").datum(fillPts)
    .attr("d", d3.area().x(d => xP(d[0])).y0(y(0)).y1(d => y(d[1])))
    .attr("fill", "#000");
  g.append("path").datum(densePts)
    .attr("d", d3.line().x(d => xP(d[0])).y(d => y(d[1])))
    .attr("fill", "none").attr("stroke", "#000").attr("stroke-width", 1.6).attr("stroke-linejoin", "miter");
  g.append("path").datum(smoothPts)
    .attr("d", d3.line().x(d => xP(d[0])).y(d => y(d[1])).curve(d3.curveMonotoneX))
    .attr("fill", "none").attr("stroke", "#000").attr("stroke-width", 1.9).attr("stroke-linejoin", "round");
  return g;
}
function vlines(g, periods, color, p, w) {
  g.selectAll(null).data(periods).enter().append("line")
    .attr("x1", d => xP(d)).attr("x2", d => xP(d)).attr("y1", p.y0).attr("y2", p.y1)
    .attr("stroke", color).attr("stroke-width", w || 1.6);
}
function logAxis(p, showLabels) {
  const minor = xP.ticks().filter(t => !periodTicks.includes(t));
  const gm = svg.append("g").attr("transform", `translate(0,${p.y1})`)
    .call(d3.axisBottom(xP).tickValues(minor).tickSize(3.5).tickFormat(""));
  styleAxis(gm, 16);
  const gM = svg.append("g").attr("transform", `translate(0,${p.y1})`)
    .call(d3.axisBottom(xP).tickValues(periodTicks).tickSize(6).tickPadding(9)
      .tickFormat(showLabels ? d3.format("d") : ""));
  styleAxis(gM, 16);
}

// Top panel
const gTop = periodogram(filteredPts, yTop, P_TOP, "cTop");
vlines(gTop, grayPeriods, "#ababab", P_TOP);
vlines(gTop, bluePeriods, "#2a2aff", P_TOP);
vlines(gTop, greenPeriods, "#45a045", P_TOP);
gTop.append("line").attr("x1", P_TOP.x0).attr("x2", P_TOP.x1)
  .attr("y1", yTop(fapLevelFiltered)).attr("y2", yTop(fapLevelFiltered))
  .attr("stroke", "#7a7aff").attr("stroke-width", 3)
  .attr("stroke-dasharray", "10.7,27.6").attr("stroke-dashoffset", 4.3);
frame(P_TOP);
logAxis(P_TOP, false);
styleAxis(svg.append("g").attr("transform", `translate(${P_TOP.x0},0)`)
  .call(d3.axisLeft(yTop).tickValues(powerTicksTop).tickFormat(d3.format(".2f")).tickSize(6).tickPadding(8)), 16);
label(1120, 67, "0.001 FAP", 17, "end");
label(65, 123, "Power", 17, "middle", true);

// Middle panel
const gMid = periodogram(unfilteredPts, yMid, P_MID, "cMid");
vlines(gMid, greenPeriods, "#45a045", P_MID);
frame(P_MID);
logAxis(P_MID, true);
styleAxis(svg.append("g").attr("transform", `translate(${P_MID.x0},0)`)
  .call(d3.axisLeft(yMid).tickValues(powerTicksMid).tickFormat(d3.format(".2f")).tickSize(6).tickPadding(8)), 16);
label(1120, 264, "0.001 FAP", 17, "end");
label(65, 321, "Power", 17, "middle", true);
label(630.5, 452, "Period (days)", 17.5);

// Main title
label(630.5, 26, "LS Periodogram (Filtered and Unfiltered)", 20.5);

// Bottom-left: Filtered Flux
const xYear = d3.scaleLinear().domain([2004.47, 2018.1]).range([P_BL.x0, P_BL.x1]);
const yFlux = d3.scaleLinear().domain([-0.00407, 0.00397]).range([P_BL.y1, P_BL.y0]);
const gBL = svg.append("g").attr("clip-path", clip("cBL", P_BL));
gBL.selectAll("circle").data(fluxPts).enter().append("circle")
  .attr("cx", d => xYear(d[0])).attr("cy", d => yFlux(d[1])).attr("r", DOT_R).attr("fill", "#000");
frame(P_BL);
styleAxis(svg.append("g").attr("transform", `translate(0,${P_BL.y1})`)
  .call(d3.axisBottom(xYear).tickValues(yearTicks).tickFormat(d3.format("d")).tickSize(6).tickPadding(8)), 17);
styleAxis(svg.append("g").attr("transform", `translate(${P_BL.x0},0)`)
  .call(d3.axisLeft(yFlux).tickValues(fluxTicks).tickFormat(d3.format(".4f")).tickSize(6).tickPadding(8)), 17);
label(366.5, 494, "Filtered Flux", 21);
label(366.5, 722, "Year", 17.5);
label(25, 587, "Rel. Flux", 17.5, "middle", true);

// Bottom-right: phased
const xDay = d3.scaleLinear().domain([0, 62.1]).range([P_BR.x0, P_BR.x1]);
const yFluxR = yFlux.copy().range([P_BR.y1, P_BR.y0]);
const gBR = svg.append("g").attr("clip-path", clip("cBR", P_BR));
gBR.selectAll("circle").data(phasePts).enter().append("circle")
  .attr("cx", d => xDay(d[0])).attr("cy", d => yFluxR(d[1])).attr("r", DOT_R).attr("fill", "#000");
gBR.append("path").datum(fitDays.map((d, i) => [d, fitFlux[i]]))
  .attr("d", d3.line().x(d => xDay(d[0])).y(d => yFluxR(d[1])).curve(d3.curveCatmullRom))
  .attr("fill", "none").attr("stroke", "#0000ff").attr("stroke-width", 6);
frame(P_BR);
styleAxis(svg.append("g").attr("transform", `translate(0,${P_BR.y1})`)
  .call(d3.axisBottom(xDay).tickValues(dayTicks).tickFormat(d3.format("d")).tickSize(6).tickPadding(8)), 17);
styleAxis(svg.append("g").attr("transform", `translate(${P_BR.x0},0)`)
  .call(d3.axisLeft(yFluxR).tickValues(fluxTicks).tickFormat("").tickSize(6)), 17);
label(894.5, 494, "Data phased to 62.1 days", 21);
label(894.5, 722, "Cycle day", 17.5);
</script>
</body></html>
